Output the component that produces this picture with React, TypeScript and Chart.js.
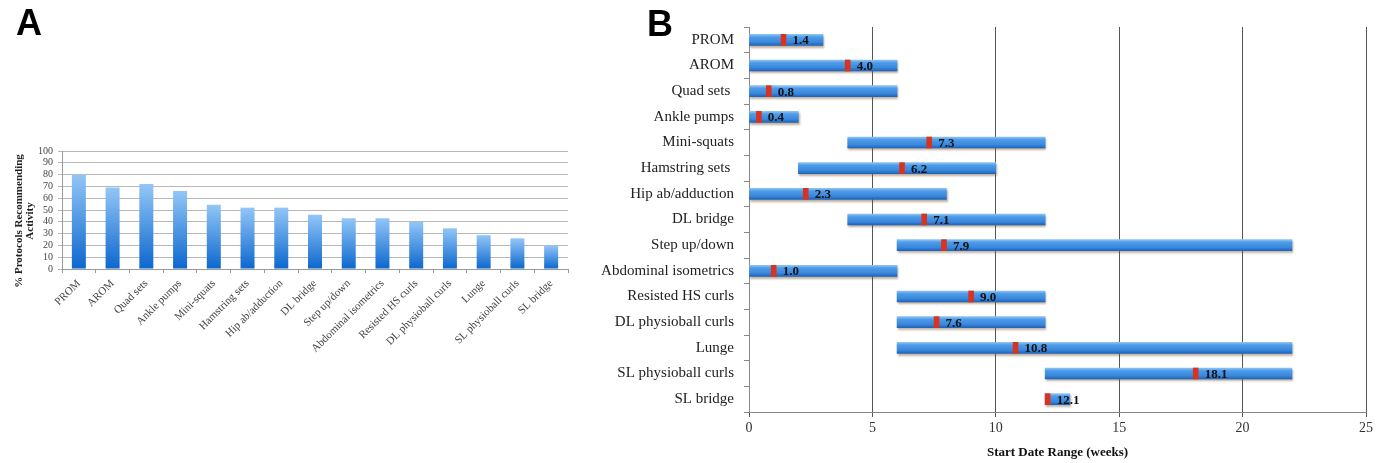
import React, { useEffect, useRef } from 'react';
import { Chart, registerables } from 'chart.js';

Chart.register(...registerables);

// ---------- Panel A data ----------
const activitiesA = [
  'PROM', 'AROM', 'Quad sets', 'Ankle pumps', 'Mini-squats', 'Hamstring sets',
  'Hip ab/adduction', 'DL bridge', 'Step up/down', 'Abdominal isometrics',
  'Resisted HS curls', 'DL physioball curls', 'Lunge', 'SL physioball curls', 'SL bridge',
];
const percentRecommending = [80, 69, 72, 66, 54.5, 52, 52, 46, 43, 43, 40, 34.5, 28.7, 26, 20];
const yAxisTitleA = ['% Protocols Recommending', 'Activity'];

// ---------- Panel B data ----------
const activitiesB = [
  'PROM', 'AROM', 'Quad sets ', 'Ankle pumps', 'Mini-squats', 'Hamstring sets ',
  'Hip ab/adduction', 'DL bridge', 'Step up/down', 'Abdominal isometrics',
  'Resisted HS curls', 'DL physioball curls', 'Lunge', 'SL physioball curls', 'SL bridge',
];
const rangeStartWeeks = [0, 0, 0, 0, 4, 2, 0, 4, 6, 0, 6, 6, 6, 12, 12];
const rangeEndWeeks = [3, 6, 6, 2, 12, 10, 8, 12, 22, 6, 12, 12, 22, 22, 13];
const medianStartWeeks = [1.4, 4.0, 0.8, 0.4, 7.3, 6.2, 2.3, 7.1, 7.9, 1.0, 9.0, 7.6, 10.8, 18.1, 12.1];
const medianMarkerHalfWidth = 0.1;
const xAxisTitleB = 'Start Date Range (weeks)';

const SERIF = '"Liberation Serif", "Times New Roman", serif';

const yTitlePluginA = {
  id: 'yTitleA',
  afterDraw(chart: any) {
    const c = chart.ctx;
    const { top, bottom } = chart.chartArea;
    const cy = (top + bottom) / 2 + 11;
    c.save();
    c.translate(19, cy);
    c.rotate(-Math.PI / 2);
    c.font = `bold 11px ${SERIF}`;
    c.fillStyle = '#222';
    c.textAlign = 'center';
    c.textBaseline = 'middle';
    yAxisTitleA.forEach((line, i) => c.fillText(line, 0, i * 11));
    c.restore();
  },
};

function PanelA() {
  const ref = useRef<HTMLCanvasElement>(null);
  useEffect(() => {
    const chart = new Chart(ref.current!, {
      type: 'bar',
      data: {
        labels: activitiesA,
        datasets: [
          {
            data: percentRecommending,
            barPercentage: 0.415,
            categoryPercentage: 1,
            backgroundColor: (ctx: any) => {
              const c = ctx.chart;
              if (ctx.type !== 'data' || !c.chartArea) return '#4a94e6';
              const y = c.scales.y;
              const top = y.getPixelForValue(ctx.raw);
              const bottom = y.getPixelForValue(0);
              const g = c.ctx.createLinearGradient(0, top, 0, bottom);
              g.addColorStop(0, '#93c6f7');
              g.addColorStop(1, '#0b67ce');
              return g;
            },
          },
        ],
      },
      options: {
        responsive: false,
        animation: false,
        layout: { padding: { left: 0, right: 32, top: 151, bottom: 0 } },
        plugins: { legend: { display: false }, tooltip: { enabled: false } },
        scales: {
          x: {
            afterFit: (s: any) => { s.height = 194; },
            grid: { display: true, drawOnChartArea: false, drawTicks: true, tickLength: 4, color: '#999', offset: true },
            border: { color: '#999' },
            ticks: {
              autoSkip: false, minRotation: 45, maxRotation: 45, padding: 4,
              color: '#444', font: { family: SERIF, size: 11 },
            },
          },
          y: {
            min: 0, max: 100,
            afterFit: (s: any) => { s.width = 62; },
            ticks: { stepSize: 10, autoSkip: false, color: '#444', padding: 5, font: { family: SERIF, size: 10 } },
            grid: { color: '#b8b8b8', tickLength: 4 },
            border: { color: '#999' },
          },
        },
      },
      plugins: [yTitlePluginA],
    } as any);
    return () => chart.destroy();
  }, []);
  return <canvas ref={ref} width={600} height={463} style={{ display: 'block' }} />;
}

const shadowPlugin = {
  id: 'barShadow',
  beforeDatasetDraw(chart: any, args: any) {
    if (args.index === 1) {
      const c = chart.ctx;
      c.save();
      c.shadowColor = 'rgba(110,80,40,0.45)';
      c.shadowOffsetX = 1;
      c.shadowOffsetY = 2;
      c.shadowBlur = 2;
    }
  },
  afterDatasetDraw(chart: any, args: any) {
    if (args.index === 1) chart.ctx.restore();
  },
};

const medianLabelPlugin = {
  id: 'medianLabels',
  afterDatasetsDraw(chart: any) {
    const c = chart.ctx;
    const x = chart.scales.x;
    const y = chart.scales.y;
    c.save();
    c.font = `bold 13px ${SERIF}`;
    c.fillStyle = '#111';
    c.textAlign = 'left';
    c.textBaseline = 'middle';
    medianStartWeeks.forEach((m, i) => {
      c.fillText(m.toFixed(1), x.getPixelForValue(m) + 9, y.getPixelForValue(i) + 1);
    });
    c.restore();
  },
};

function PanelB() {
  const ref = useRef<HTMLCanvasElement>(null);
  useEffect(() => {
    const chart = new Chart(ref.current!, {
      type: 'bar',
      data: {
        labels: activitiesB,
        datasets: [
          {
            data: medianStartWeeks.map((m) => [m - medianMarkerHalfWidth, m + medianMarkerHalfWidth]),
            backgroundColor: '#d9321e',
            barThickness: 11,
            grouped: false,
            order: 0,
          },
          {
            data: rangeStartWeeks.map((s, i) => [s, rangeEndWeeks[i]]),
            barThickness: 11,
            grouped: false,
            order: 1,
            backgroundColor: (ctx: any) => {
              const c = ctx.chart;
              if (ctx.type !== 'data' || !c.chartArea) return '#3d8fe0';
              const yc = c.scales.y.getPixelForValue(ctx.dataIndex);
              const g = c.ctx.createLinearGradient(0, yc - 5.5, 0, yc + 5.5);
              g.addColorStop(0, '#8cc2f4');
              g.addColorStop(0.25, '#4d9be8');
              g.addColorStop(0.7, '#3a88dc');
              g.addColorStop(1, '#1f63bd');
              return g;
            },
          },
        ],
      },
      options: {
        indexAxis: 'y',
        responsive: false,
        animation: false,
        layout: { padding: { left: 0, right: 20, top: 27, bottom: 0 } },
        plugins: { legend: { display: false }, tooltip: { enabled: false } },
        scales: {
          x: {
            min: 0, max: 25,
            afterFit: (s: any) => { s.height = 51; },
            ticks: { stepSize: 5, color: '#333', padding: 3, font: { family: SERIF, size: 14 } },
            grid: { color: '#555', tickLength: 5 },
            border: { color: '#888' },
            title: {
              display: true, text: xAxisTitleB, color: '#111',
              font: { family: SERIF, size: 13, weight: 'bold' },
              padding: { top: 0, bottom: 3 },
            },
          },
          y: {
            afterFit: (s: any) => { s.width = 149; },
            grid: { display: true, drawOnChartArea: false, drawTicks: true, tickLength: 5, color: '#888', offset: true },
            border: { color: '#888' },
            ticks: { autoSkip: false, color: '#222', padding: 10, font: { family: SERIF, size: 15 } },
          },
        },
      },
      plugins: [shadowPlugin, medianLabelPlugin],
    } as any);
    return () => chart.destroy();
  }, []);
  return <canvas ref={ref} width={786} height={463} style={{ display: 'block' }} />;
}

const letterStyle: React.CSSProperties = {
  position: 'absolute',
  fontFamily: '"Liberation Sans", Arial, sans-serif',
  fontWeight: 'bold',
  fontSize: 36,
  lineHeight: '36px',
  color: '#000',
};

export default function App() {
  return (
    <div style={{ position: 'absolute', left: 0, top: 0, width: 1386, height: 463, background: '#fff', overflow: 'hidden' }}>
      <div style={{ position: 'absolute', left: 0, top: 0 }}><PanelA /></div>
      <div style={{ position: 'absolute', left: 600, top: 0 }}><PanelB /></div>
      <div style={{ ...letterStyle, left: 16, top: 5 }}>A</div>
      <div style={{ ...letterStyle, left: 647, top: 6 }}>B</div>
    </div>
  );
}
